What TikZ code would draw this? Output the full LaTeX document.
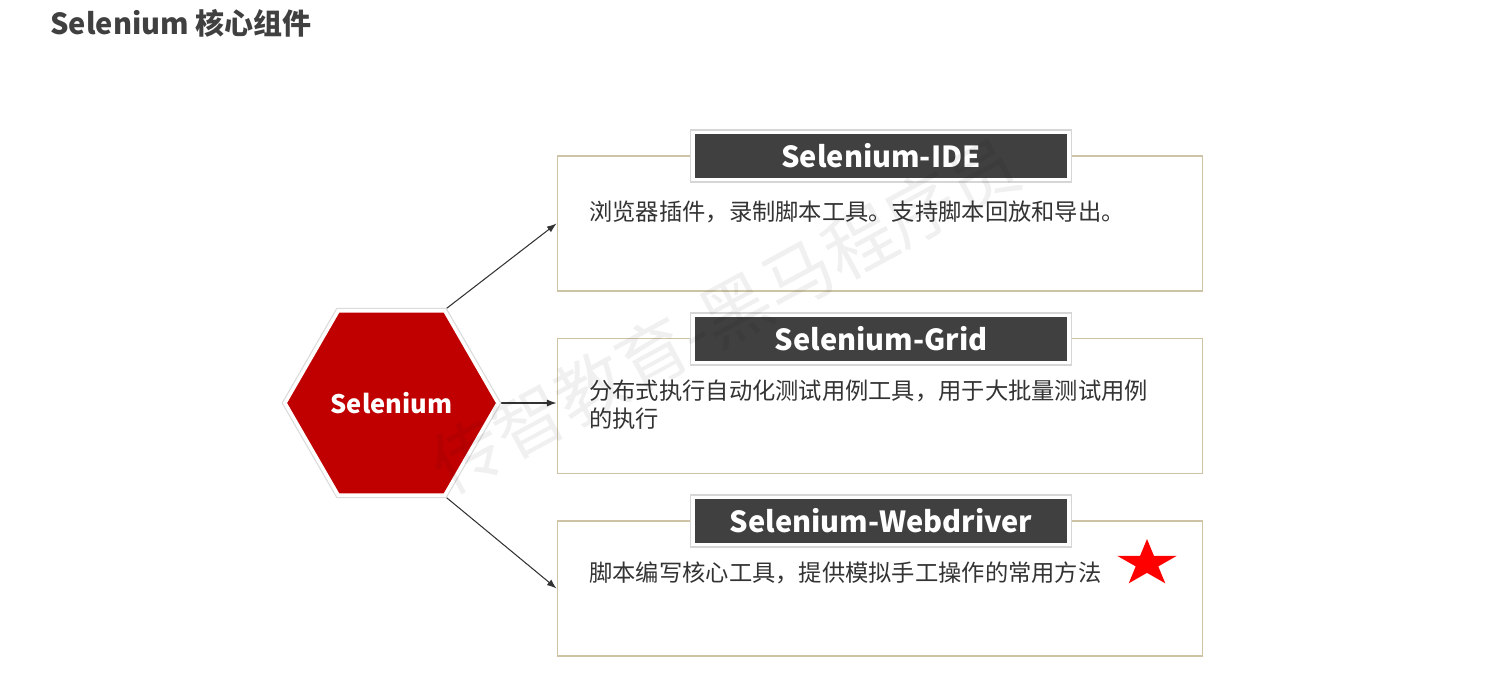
\documentclass[tikz,border=0pt]{standalone}
\usepackage{fontspec}
\setmainfont{Noto Sans CJK SC}
\usepackage{xcolor}
\usepackage{tikz}
\usetikzlibrary{arrows.meta}
\usetikzlibrary{backgrounds}
\usetikzlibrary{shapes,shapes.geometric}
\usetikzlibrary{shadows,positioning}
\pgfdeclarelayer{edgelayer}
\pgfdeclarelayer{nodelayer}
\pgfsetlayers{background,edgelayer,nodelayer,main}
\definecolor{selred}{HTML}{C00000}
\definecolor{tabgray}{HTML}{404040}
\definecolor{boxtan}{HTML}{CCC4A4}
\definecolor{txtgray}{HTML}{333333}
\tikzstyle{none}=[inner sep=0mm]
\tikzstyle{hexnode}=[regular polygon,regular polygon sides=6,minimum size=4.26cm,inner sep=0pt,fill=selred,draw=white,line width=2pt,text=white,font=\bfseries\fontsize{14.5}{17}\selectfont]
\tikzstyle{panel}=[rectangle,draw=boxtan,line width=0.6pt,minimum width=12.92cm,minimum height=2.7cm,inner sep=0pt]
\tikzstyle{tab}=[rectangle,fill=tabgray,draw=white,line width=2pt,minimum width=7.52cm,minimum height=0.94cm,inner sep=0pt,text=white,font=\bfseries\fontsize{16.5}{19}\selectfont]
\tikzstyle{body}=[inner sep=0mm,anchor=west,align=left,text=txtgray,font=\fontsize{13.25}{15.9}\selectfont]
\tikzstyle{diredge}=[-{Latex[length=5.5pt,width=4pt]},draw=txtgray,line width=0.6pt]
\tikzset{
	hexnode/.append style={preaction={draw=black!14,line width=3.4pt}},
	tab/.append style={preaction={draw=black!16,line width=3.6pt}}
}

\begin{document}
\begin{tikzpicture}[x=0.02cm,y=-0.02cm]
	\useasboundingbox (0,0) rectangle (1500,680);
	\begin{pgfonlayer}{nodelayer}
		\node [style=none,anchor=base west,text=tabgray,font=\bfseries\fontsize{16.5}{20}\selectfont] (0) at (50,34) {Selenium 核心组件};
		\node [style=hexnode] (1) at (391.5,403) {Selenium};
		\node [style=panel] (2) at (880,223.5) {};
		\node [style=panel] (3) at (880,406) {};
		\node [style=panel] (4) at (880,588.5) {};
		\node [style=tab] (5) at (881,156) {Selenium-IDE};
		\node [style=tab] (6) at (881,339) {Selenium-Grid};
		\node [style=tab] (7) at (881,521) {Selenium-Webdriver};
		\node [style=body] (8) at (589,212) {浏览器插件，录制脚本工具。支持脚本回放和导出。};
		\node [style=body] (9) at (589,405) {分布式执行自动化测试用例工具，用于大批量测试用例\\的执行};
		\node [style=body] (10) at (589,573) {脚本编写核心工具，提供模拟手工操作的常用方法};
		\node [star,star points=5,star point ratio=2.618,fill=red,draw=none,minimum size=0.98cm,inner sep=0pt,xscale=1.27] (11) at (1147,563.5) {};
	\end{pgfonlayer}
	\begin{pgfonlayer}{edgelayer}
		\draw [style=diredge] (1.60) to (2.west);
		\draw [style=diredge] (1.0) to (1.0 -| 3.west);
		\draw [style=diredge] (1.-60) to (4.west);
	\end{pgfonlayer}
	% watermark
	\node [style=none,rotate=28.5,text=black,opacity=0.06,font=\fontsize{40}{40}\selectfont] (12) at (725,315) {传智教育-黑马程序员};
\end{tikzpicture}
\end{document}
